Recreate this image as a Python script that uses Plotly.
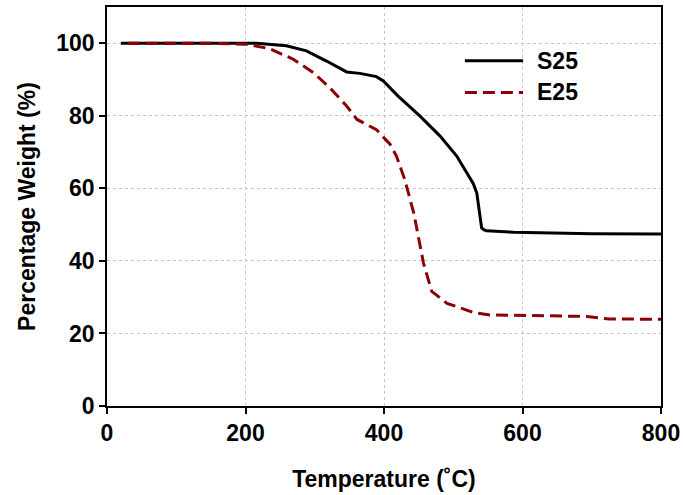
import plotly.graph_objects as go

s25_temp = [20, 134, 216, 259, 288, 317, 346, 365, 389, 399, 420, 452, 481, 505, 524, 529, 534, 538, 541, 544, 548, 587, 635, 700, 800]
s25_wt = [100, 100, 100, 99.3, 97.9, 95.1, 92.1, 91.7, 90.8, 89.6, 85.5, 79.9, 74.4, 68.9, 62.6, 61.3, 58.7, 53.5, 49.1, 48.6, 48.3, 47.9, 47.7, 47.5, 47.4]

e25_temp = [30, 150, 202, 235, 269, 298, 322, 346, 361, 389, 409, 418, 430, 443, 457, 469, 491, 529, 553, 601, 693, 715, 726, 800]
e25_wt = [100, 100, 99.7, 98.5, 95.6, 91.9, 87.7, 82.7, 79.0, 76.2, 72.1, 68.9, 62.4, 53.2, 39.4, 31.6, 28.3, 25.8, 25.1, 24.9, 24.7, 24.2, 24.0, 23.9]

series_names = ["S25", "E25"]
series_colors = ["black", "#8b0000"]
series_dash = ["solid", "12px,6px"]

font_family = "Liberation Sans, Arial, sans-serif"
bold = dict(family=font_family, color="black", weight="bold")

fig = go.Figure()
for name, xs, ys, col, dsh in zip(series_names, [s25_temp, e25_temp], [s25_wt, e25_wt],
                                  series_colors, series_dash):
    fig.add_trace(go.Scatter(x=xs, y=ys, mode="lines", name=name, showlegend=False,
                             line=dict(color=col, width=3, dash=dsh)))

# manual legend (long line samples like the reference)
legend_y = [0.865, 0.786]
for name, col, dsh, ly in zip(series_names, series_colors, series_dash, legend_y):
    fig.add_shape(type="line", xref="paper", yref="paper", x0=0.646, x1=0.751, y0=ly, y1=ly,
                  line=dict(color=col, width=3, dash=dsh))
    fig.add_annotation(xref="paper", yref="paper", x=0.772, y=ly, text=name, showarrow=False,
                       xanchor="left", yanchor="middle", font=dict(size=23, **bold))

axis_common = dict(
    showline=True, linecolor="black", linewidth=1.5, mirror=True,
    ticks="outside", ticklen=6, tickcolor="black", tickwidth=1.5,
    showgrid=True, gridcolor="#c4c4c4", griddash="dot", gridwidth=1,
    zeroline=False, automargin=False,
    tickfont=dict(size=23, **bold),
)

fig.update_layout(
    width=683, height=495,
    margin=dict(l=107, r=22, t=7, b=89),
    paper_bgcolor="white", plot_bgcolor="white",
    font=dict(family=font_family, color="black"),
    xaxis=dict(range=[0, 800], tick0=0, dtick=200,
               title=dict(text="Temperature (˚C)", standoff=26, font=dict(size=23, **bold)),
               **axis_common),
    yaxis=dict(range=[0, 110], tickvals=[0, 20, 40, 60, 80, 100],
               title=dict(text="Percentage Weight (%)", standoff=14, font=dict(size=23, **bold)),
               **axis_common),
    showlegend=False,
)

fig.write_html("out.html")
